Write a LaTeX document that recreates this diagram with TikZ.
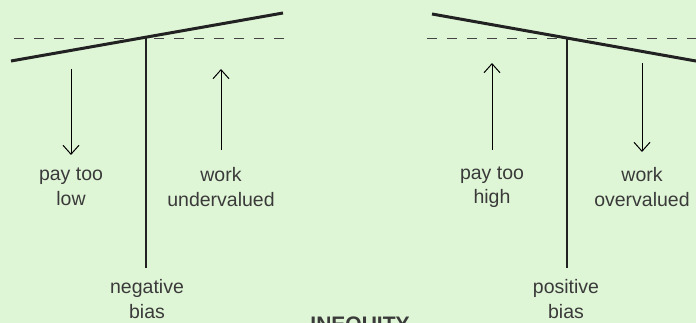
\documentclass[tikz,border=0pt]{standalone}
\usepackage{fontspec}
\setmainfont{Liberation Sans}
\usepackage{xcolor}
\usepackage{tikz}
\usetikzlibrary{arrows.meta}

\definecolor{fond}{HTML}{DFF6D6}
\definecolor{trait}{HTML}{222222}
\definecolor{texte}{HTML}{3A3A3A}

\begin{document}
\begin{tikzpicture}[
    x=1pt, y=-1pt,
    fleau/.style={draw=trait, line width=3pt},
    pied/.style={draw=trait, line width=2.5pt},
    niveau/.style={draw=trait!85, line width=1pt, dash pattern=on 10pt off 10pt},
    fleche/.style={draw=black, line width=1pt, -{Straight Barb[length=9pt,width=16pt]}},
    etiq/.style={align=center, inner sep=0pt, text=texte, font=\fontsize{19.5}{24.5}\selectfont},
  ]
  \fill[fond] (0,0) rectangle (696,323);
  \useasboundingbox (0,0) rectangle (696,323);

  % balance de gauche : biais negatif
  \coordinate (pivotG) at (146,38);
  \coordinate (basG) at (146,268);
  \coordinate (fleauGa) at (11,61);
  \coordinate (fleauGb) at (283,13);
  \draw[niveau] (14,38.5) coordinate (nivGa) -- (290,38.5) coordinate (nivGb);
  \draw[fleau] (fleauGa) -- (fleauGb);
  \draw[pied] (pivotG) -- (basG);
  \coordinate (flGa) at (71,69);
  \coordinate (flGb) at (71,155);
  \coordinate (flGc) at (221,150);
  \coordinate (flGd) at (221,69);
  \draw[fleche] (flGa) -- (flGb);
  \draw[fleche] (flGc) -- (flGd);
  \node[etiq] (payLow) at (71,187) {pay too\\low};
  \node[etiq] (workUnder) at (221,187) {work\\undervalued};
  \node[etiq] (negBias) at (147,299) {negative\\bias};

  % balance de droite : biais positif
  \coordinate (pivotD) at (567,38);
  \coordinate (basD) at (567,268);
  \coordinate (fleauDa) at (432,14);
  \coordinate (fleauDb) at (697,61.2);
  \draw[niveau] (427,38.5) coordinate (nivDa) -- (700,38.5) coordinate (nivDb);
  \draw[fleau] (fleauDa) -- (fleauDb);
  \draw[pied] (pivotD) -- (basD);
  \coordinate (flDa) at (492,150);
  \coordinate (flDb) at (492,63);
  \coordinate (flDc) at (642,63);
  \coordinate (flDd) at (642,152);
  \draw[fleche] (flDa) -- (flDb);
  \draw[fleche] (flDc) -- (flDd);
  \node[etiq] (payHigh) at (492,187) {pay too\\high};
  \node[etiq] (workOver) at (642,187) {work\\overvalued};
  \node[etiq] (posBias) at (566,299) {positive\\bias};

  % titre, coupe par le bas
  \node[anchor=base, inner sep=0pt, text=texte, font=\fontsize{21}{25}\selectfont\bfseries] (titre) at (360,331) {INEQUITY};
\end{tikzpicture}
\end{document}
